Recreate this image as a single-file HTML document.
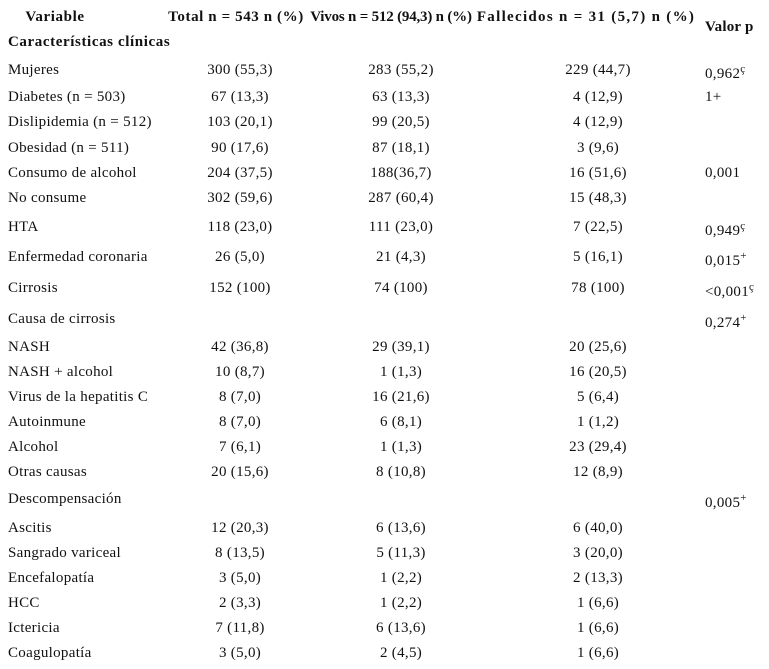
<!DOCTYPE html>
<html><head><meta charset="utf-8"><style>
body{margin:0;width:769px;height:669px;background:#fff;position:relative;overflow:hidden;font-family:"Liberation Serif",serif;color:#111;font-size:15px;letter-spacing:0.3px}
.c{position:absolute;white-space:nowrap;line-height:16px}
.h{font-weight:bold;font-size:15px;letter-spacing:0.6px}
.ctr{transform:translateX(-50%)}
sup{font-size:11px;line-height:0;vertical-align:6px}
</style></head><body>
<div class="c h ctr" style="left:55px;top:9px">Variable</div>
<div class="c h ctr" style="left:236px;top:9px">Total n = 543 n (%)</div>
<div class="c h ctr" style="left:391px;top:9px;letter-spacing:-0.2px">Vivos n = 512 (94,3) n (%)</div>
<div class="c h ctr" style="left:586px;top:9px;letter-spacing:1.3px">Fallecidos n = 31 (5,7) n (%)</div>
<div class="c h" style="left:705px;top:19px;letter-spacing:0.2px">Valor p</div>
<div class="c h" style="left:8px;top:34px">Características clínicas</div>
<div id="rows"></div>
<script>
const labels=["Mujeres","Diabetes (n = 503)","Dislipidemia (n = 512)","Obesidad (n = 511)","Consumo de alcohol","No consume","HTA","Enfermedad coronaria","Cirrosis","Causa de cirrosis","NASH","NASH + alcohol","Virus de la hepatitis C","Autoinmune","Alcohol","Otras causas","Descompensación","Ascitis","Sangrado variceal","Encefalopatía","HCC","Ictericia","Coagulopatía"];
const totals=["300 (55,3)","67 (13,3)","103 (20,1)","90 (17,6)","204 (37,5)","302 (59,6)","118 (23,0)","26 (5,0)","152 (100)","","42 (36,8)","10 (8,7)","8 (7,0)","8 (7,0)","7 (6,1)","20 (15,6)","","12 (20,3)","8 (13,5)","3 (5,0)","2 (3,3)","7 (11,8)","3 (5,0)"];
const vivos=["283 (55,2)","63 (13,3)","99 (20,5)","87 (18,1)","188(36,7)","287 (60,4)","111 (23,0)","21 (4,3)","74 (100)","","29 (39,1)","1 (1,3)","16 (21,6)","6 (8,1)","1 (1,3)","8 (10,8)","","6 (13,6)","5 (11,3)","1 (2,2)","1 (2,2)","6 (13,6)","2 (4,5)"];
const fallecidos=["229 (44,7)","4 (12,9)","4 (12,9)","3 (9,6)","16 (51,6)","15 (48,3)","7 (22,5)","5 (16,1)","78 (100)","","20 (25,6)","16 (20,5)","5 (6,4)","1 (1,2)","23 (29,4)","12 (8,9)","","6 (40,0)","3 (20,0)","2 (13,3)","1 (6,6)","1 (6,6)","1 (6,6)"];
const pvals=["0,962|ç","1+","","","0,001","","0,949|ç","0,015|+","<0,001|ç","0,274|+","","","","","","","0,005|+","","","","","",""];
const ys=[70,97,122,148,173,198,227,257,288,319,347,372,397,422,447,472,499,528,553,578,603,628,653];
const root=document.getElementById('rows');
function cell(txt,x,y,center,name){
  const d=document.createElement('div');
  d.className='c'+(center?' ctr':'');
  d.style.left=x+'px';d.style.top=(y-8)+'px';
  d.textContent=txt;
  
  
  root.appendChild(d);return d;
}
labels.forEach((l,i)=>{
  const y=ys[i];
  cell(l,8,y,false,'row-label');
  if(totals[i])cell(totals[i],240,y,true,'total-cell');
  if(vivos[i])cell(vivos[i],401,y,true,'vivos-cell');
  if(fallecidos[i])cell(fallecidos[i],598,y,true,'fallecidos-cell');
  if(pvals[i]){
    const parts=pvals[i].split('|');
    const d=cell(parts[0],705,parts[1]?y+4:y,false,'p-value-cell');
    if(parts[1]){const s=document.createElement('sup');s.textContent=parts[1];d.appendChild(s);}
  }
});
</script>
</body></html>
